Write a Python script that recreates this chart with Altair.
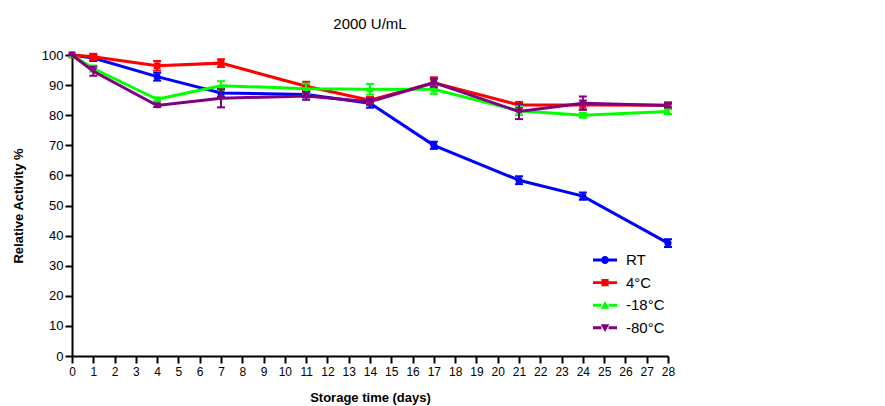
import altair as alt
import pandas as pd

days = [0, 1, 4, 7, 11, 14, 17, 21, 24, 28]
series_names = ["RT", "4°C", "-18°C", "-80°C"]
series_colors = ["#0000FF", "#FF0000", "#00FF00", "#800080"]

rt_mean = [100, 99.0, 92.8, 87.4, 86.9, 84.0, 70.0, 58.4, 53.1, 37.5]
rt_sd = [0, 1.0, 1.3, 1.3, 1.0, 1.5, 1.2, 1.3, 1.2, 1.3]
c4_mean = [100, 99.4, 96.4, 97.3, 89.6, 85.0, 90.8, 83.4, 83.4, 83.3]
c4_sd = [0, 1.0, 1.6, 1.3, 1.5, 1.0, 1.8, 1.0, 1.5, 1.0]
m18_mean = [100, 95.5, 85.3, 89.8, 88.8, 88.6, 88.6, 81.5, 80.0, 81.2]
m18_sd = [0, 1.0, 0.6, 1.5, 1.7, 1.8, 1.5, 1.5, 0.8, 0.8]
m80_mean = [100, 94.6, 83.2, 85.6, 86.4, 84.5, 90.8, 81.2, 84.0, 83.2]
m80_sd = [0, 1.5, 0.5, 3.0, 1.3, 1.0, 1.3, 2.5, 2.2, 0.6]

means = [rt_mean, c4_mean, m18_mean, m80_mean]
sds = [rt_sd, c4_sd, m18_sd, m80_sd]
marker_shapes = ["circle", "square", "triangle-up", "triangle-down"]
marker_sizes = [50, 45, 55, 55]

rows = []
for name, m, s in zip(series_names, means, sds):
    for d, v, e in zip(days, m, s):
        rows.append({"day": d, "series": name, "value": v, "lo": v - e, "hi": v + e})
df = pd.DataFrame(rows)

FONT = "Liberation Sans"

# legend symbols: line stub + marker
stub = "M-1,-0.12 L-0.3,-0.12 L-0.3,0.12 L-1,0.12 Z M0.3,-0.12 L1,-0.12 L1,0.12 L0.3,0.12 Z "
legend_paths = [
    stub + "M0.33,0 A0.33,0.33 0 1,1 -0.33,0 A0.33,0.33 0 1,1 0.33,0 Z",
    stub + "M-0.3,-0.3 L0.3,-0.3 L0.3,0.3 L-0.3,0.3 Z",
    stub + "M0,-0.34 L0.36,0.3 L-0.36,0.3 Z",
    stub + "M0,0.34 L0.36,-0.3 L-0.36,-0.3 Z",
]

x_scale = alt.Scale(domain=[0, 28], nice=False)
y_scale = alt.Scale(domain=[0, 100], nice=False)
x_axis = alt.Axis(values=list(range(0, 29)), title="Storage time (days)", labelFlush=False,
                  labelOverlap=False, labelFontSize=12, labelPadding=3, titlePadding=14)
y_axis = alt.Axis(values=list(range(0, 101, 10)), title="Relative Activity %", labelFlush=False,
                  labelOverlap=False, labelFontSize=13, labelPadding=2, titlePadding=16)


def X():
    return alt.X("day:Q", scale=x_scale, axis=x_axis)


def Y(field):
    return alt.Y(field + ":Q", scale=y_scale, axis=y_axis)


color_scale = alt.Scale(domain=series_names, range=series_colors)
color_plain = alt.Color("series:N", scale=color_scale)

base = alt.Chart(df)
layers = []
for name, shp, sz in zip(series_names, marker_shapes, marker_sizes):
    b = base.transform_filter(alt.datum.series == name)
    layers.append(b.mark_rule(strokeWidth=2, opacity=1).encode(x=X(), y=Y("lo"), y2="hi:Q", color=color_plain))
    layers.append(b.mark_tick(orient="horizontal", size=8, thickness=2, opacity=1).encode(x=X(), y=Y("lo"), color=color_plain))
    layers.append(b.mark_tick(orient="horizontal", size=8, thickness=2, opacity=1).encode(x=X(), y=Y("hi"), color=color_plain))
    layers.append(b.mark_line(strokeWidth=3, opacity=1).encode(x=X(), y=Y("value"), color=color_plain))
    layers.append(b.mark_point(filled=True, shape=shp, size=sz, opacity=1).encode(x=X(), y=Y("value"), color=color_plain))

leg = alt.Legend(title=None, orient="none", legendX=521, legendY=193,
                 symbolSize=576, symbolOpacity=1, symbolStrokeWidth=0, symbolType="circle",
                 labelFontSize=15, labelFont=FONT, labelColor="black", labelOffset=9,
                 rowPadding=2.6, padding=0)
legend_layer = base.mark_point(filled=True, opacity=0.001).encode(
    x=X(), y=Y("value"),
    color=alt.Color("series:N", scale=color_scale, legend=leg),
    shape=alt.Shape("series:N", scale=alt.Scale(domain=series_names, range=legend_paths), legend=leg),
)
layers.insert(0, legend_layer)

chart = alt.layer(*layers).properties(
    width=596, height=301,
    title=alt.TitleParams("2000 U/mL", fontSize=15, fontWeight="normal", font=FONT, color="black",
                          anchor="middle", offset=17),
    autosize=alt.AutoSizeParams(type="none"),
    padding={"left": 64, "top": 47, "right": 209, "bottom": 50},
).configure_view(stroke=None).configure_axis(
    domainColor="black", domainWidth=2, tickColor="black", tickWidth=2, tickSize=7,
    labelFont=FONT, labelColor="black",
    titleFont=FONT, titleFontSize=13, titleFontWeight="bold", titleColor="black",
    grid=False,
).configure_axisX(labelAngle=0).configure_legend(
    symbolSize=576, symbolOpacity=1, symbolStrokeWidth=0, rowPadding=2.6, padding=0,
    labelFontSize=15, labelFont=FONT, labelColor="black", labelOffset=9,
)

chart.save("out.html", embed_options={"renderer": "svg", "actions": False})
